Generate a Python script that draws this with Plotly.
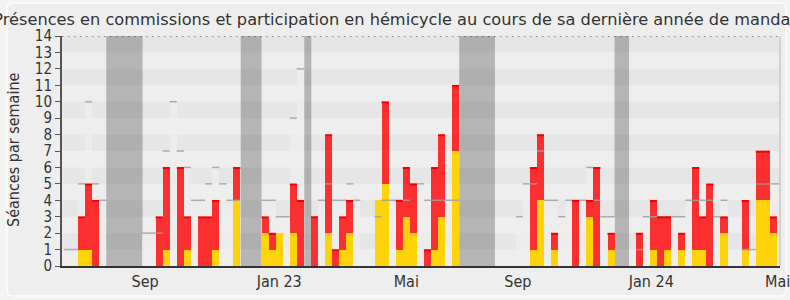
import plotly.graph_objects as go

# ---- data (one entry per week) ----
weeks = list(range(102))
total = [0, 0, 3, 5, 4, 0, 0, 0, 0, 0,
         0, 0, 0, 3, 6, 0, 6, 3, 0, 3,
         3, 4, 0, 0, 6, 0, 0, 0, 3, 2,
         2, 0, 5, 4, 0, 3, 0, 8, 1, 3,
         4, 0, 0, 0, 4, 10, 0, 4, 6, 5,
         0, 1, 6, 8, 0, 11, 0, 0, 0, 0,
         0, 0, 0, 0, 0, 0, 6, 8, 0, 2,
         0, 0, 4, 0, 4, 6, 0, 2, 0, 0,
         0, 2, 0, 4, 3, 3, 0, 2, 0, 6,
         3, 5, 0, 3, 0, 0, 4, 0, 7, 7,
         3, 0]
commission = [0, 0, 1, 1, 0, 0, 0, 0, 0, 0,
              0, 0, 0, 0, 1, 0, 0, 1, 0, 0,
              0, 1, 0, 0, 4, 0, 0, 0, 2, 1,
              2, 0, 2, 0, 0, 0, 0, 2, 0, 1,
              2, 0, 0, 0, 4, 5, 0, 1, 3, 2,
              0, 0, 1, 3, 0, 7, 0, 0, 0, 0,
              0, 0, 0, 0, 0, 0, 1, 4, 0, 1,
              0, 0, 0, 0, 3, 0, 0, 1, 0, 0,
              0, 0, 0, 1, 0, 1, 0, 1, 0, 1,
              1, 0, 0, 2, 0, 0, 1, 0, 4, 4,
              2, 0]
median = [1, 1, 5, 10, 5, 4, 0, 0, 0, 0,
          0, 2, 2, 2, 7, 10, 7, 6, 4, 4,
          5, 6, 5, 4, 4, 0, 0, 0, 4, 4,
          3, 3, 9, 12, 0, 3, 4, 5, 4, 4,
          5, 4, 0, 0, 3, 4, 4, 4, 4, 5,
          5, 4, 4, 4, 4, 4, 0, 0, 0, 0,
          0, 0, 0, 0, 3, 5, 5, 7, 4, 4,
          3, 4, 4, 4, 6, 4, 3, 3, 0, 0,
          0, 1, 3, 3, 3, 3, 3, 3, 4, 4,
          4, 4, 3, 4, 0, 0, 1, 1, 5, 5,
          5, 5]
vacations = [(6.0, 11.15), (25.05, 28.0), (34.05, 35.05), (56.0, 61.05), (78.0, 80.05)]
tick_pos = [11.5, 30.5, 48.5, 64.3, 83.2, 101.1]
tick_text = ["Sep", "Jan 23", "Mai", "Sep", "Jan 24", "Mai"]
title = "Présences en commissions et participation en hémicycle au cours de sa dernière année de mandat"
ytitle = "Séances par semaine"

FONT = "DejaVu Sans Condensed, DejaVu Sans, sans-serif"
TFONT = "DejaVu Sans, sans-serif"
hemicycle = [t - c for t, c in zip(total, commission)]
centers = [w + 0.5 for w in weeks]

fig = go.Figure()

# median (light bars)
fig.add_trace(go.Bar(x=centers, y=median, width=1,
                     marker=dict(color="rgba(238,238,238,0.7)", line=dict(width=0)),
                     hoverinfo="skip"))
# median top lines
mx, my = [], []
for w, m in zip(weeks, median):
    if m > 0:
        mx += [w, w + 1, None]
        my += [m, m, None]
fig.add_trace(go.Scatter(x=mx, y=my, mode="lines",
                         line=dict(color="rgba(160,160,160,0.85)", width=1.5),
                         hoverinfo="skip"))
# commission (yellow)
fig.add_trace(go.Bar(x=centers, y=commission, width=1,
                     marker=dict(color="rgb(255,210,10)", line=dict(width=0))))
# hemicycle (red) on top of commission
fig.add_trace(go.Bar(x=centers, y=hemicycle, base=commission, width=1,
                     marker=dict(color="rgba(255,0,0,0.8)", line=dict(width=0))))
# red top edges
rx, ry = [], []
for w, t, h in zip(weeks, total, hemicycle):
    if h > 0:
        rx += [w, w + 1, None]
        ry += [t - 0.04, t - 0.04, None]
fig.add_trace(go.Scatter(x=rx, y=ry, mode="lines",
                         line=dict(color="rgb(240,0,0)", width=2),
                         hoverinfo="skip"))

shapes = []
# stripes
for i in range(1, 14, 2):
    shapes.append(dict(type="rect", xref="paper", yref="y", x0=0, x1=1, y0=i, y1=i + 1,
                       fillcolor="#e6e6e6", line=dict(width=0), layer="below"))
# vacations
for a, b in vacations:
    shapes.append(dict(type="rect", xref="x", yref="y", x0=a, x1=b, y0=0, y1=14,
                       fillcolor="rgba(0,0,0,0.24)", line=dict(width=0), layer="below"))
# top dotted line
shapes.append(dict(type="line", xref="paper", yref="y", x0=0, x1=1, y0=14, y1=14,
                   line=dict(color="#222", width=1.2, dash="1.5px,4.5px")))
# right border
shapes.append(dict(type="line", xref="paper", yref="paper", x0=1, x1=1, y0=0, y1=1,
                   line=dict(color="#c8c8c8", width=1.5)))
# rounded frame (paper coordinates computed from pixel frame)
W, H = 718.0, 230.0
def px(x):
    return (x - 62) / W
def py(y):
    return (266 - y) / H
L, R, T, B, r = 7, 786, 3, 296, 6
path = (f"M {px(L+r)},{py(T)} L {px(R-r)},{py(T)} Q {px(R)},{py(T)} {px(R)},{py(T+r)} "
        f"L {px(R)},{py(B-r)} Q {px(R)},{py(B)} {px(R-r)},{py(B)} "
        f"L {px(L+r)},{py(B)} Q {px(L)},{py(B)} {px(L)},{py(B-r)} "
        f"L {px(L)},{py(T+r)} Q {px(L)},{py(T)} {px(L+r)},{py(T)} Z")
shapes.insert(0, dict(type="path", xref="paper", yref="paper", path=path,
                      line=dict(color="#fdfdfd", width=1.5), fillcolor="#eeeeee", layer="below"))

fig.update_layout(
    width=790, height=300,
    margin=dict(l=62, r=10, t=36, b=34, autoexpand=False),
    paper_bgcolor="#f3f3f3", plot_bgcolor="#fafafa",
    barmode="overlay", bargap=0, showlegend=False,
    shapes=shapes,
    font=dict(family=FONT, color="#333"),
    title=dict(text=title, x=0.5, xref="container", xanchor="center",
               y=1 - 19 / 300, yref="container", yanchor="middle",
               font=dict(family=TFONT, size=16.2, color="#333")),
    annotations=[dict(text=ytitle, xref="paper", yref="paper", x=px(13), y=py(150),
                      xanchor="center", yanchor="middle", textangle=-90, showarrow=False,
                      font=dict(family=FONT, size=16, color="#333"))],
)
fig.update_xaxes(range=[-0.266, 101.43], showgrid=False, zeroline=False, automargin=False,
                 showline=True, linecolor="#333", linewidth=2,
                 tickmode="array", tickvals=tick_pos, ticktext=tick_text,
                 ticklabeloverflow="allow",
                 ticks="", tickfont=dict(family=FONT, size=16, color="#333"))
fig.update_yaxes(range=[0, 14], showgrid=False, zeroline=False, automargin=False,
                 showline=True, linecolor="#555", linewidth=2,
                 tickmode="array", tickvals=list(range(15)),
                 ticks="outside", ticklen=5, tickcolor="#555", tickwidth=1,
                 tickfont=dict(family=FONT, size=15, color="#333"))

fig.write_html("out.html")
